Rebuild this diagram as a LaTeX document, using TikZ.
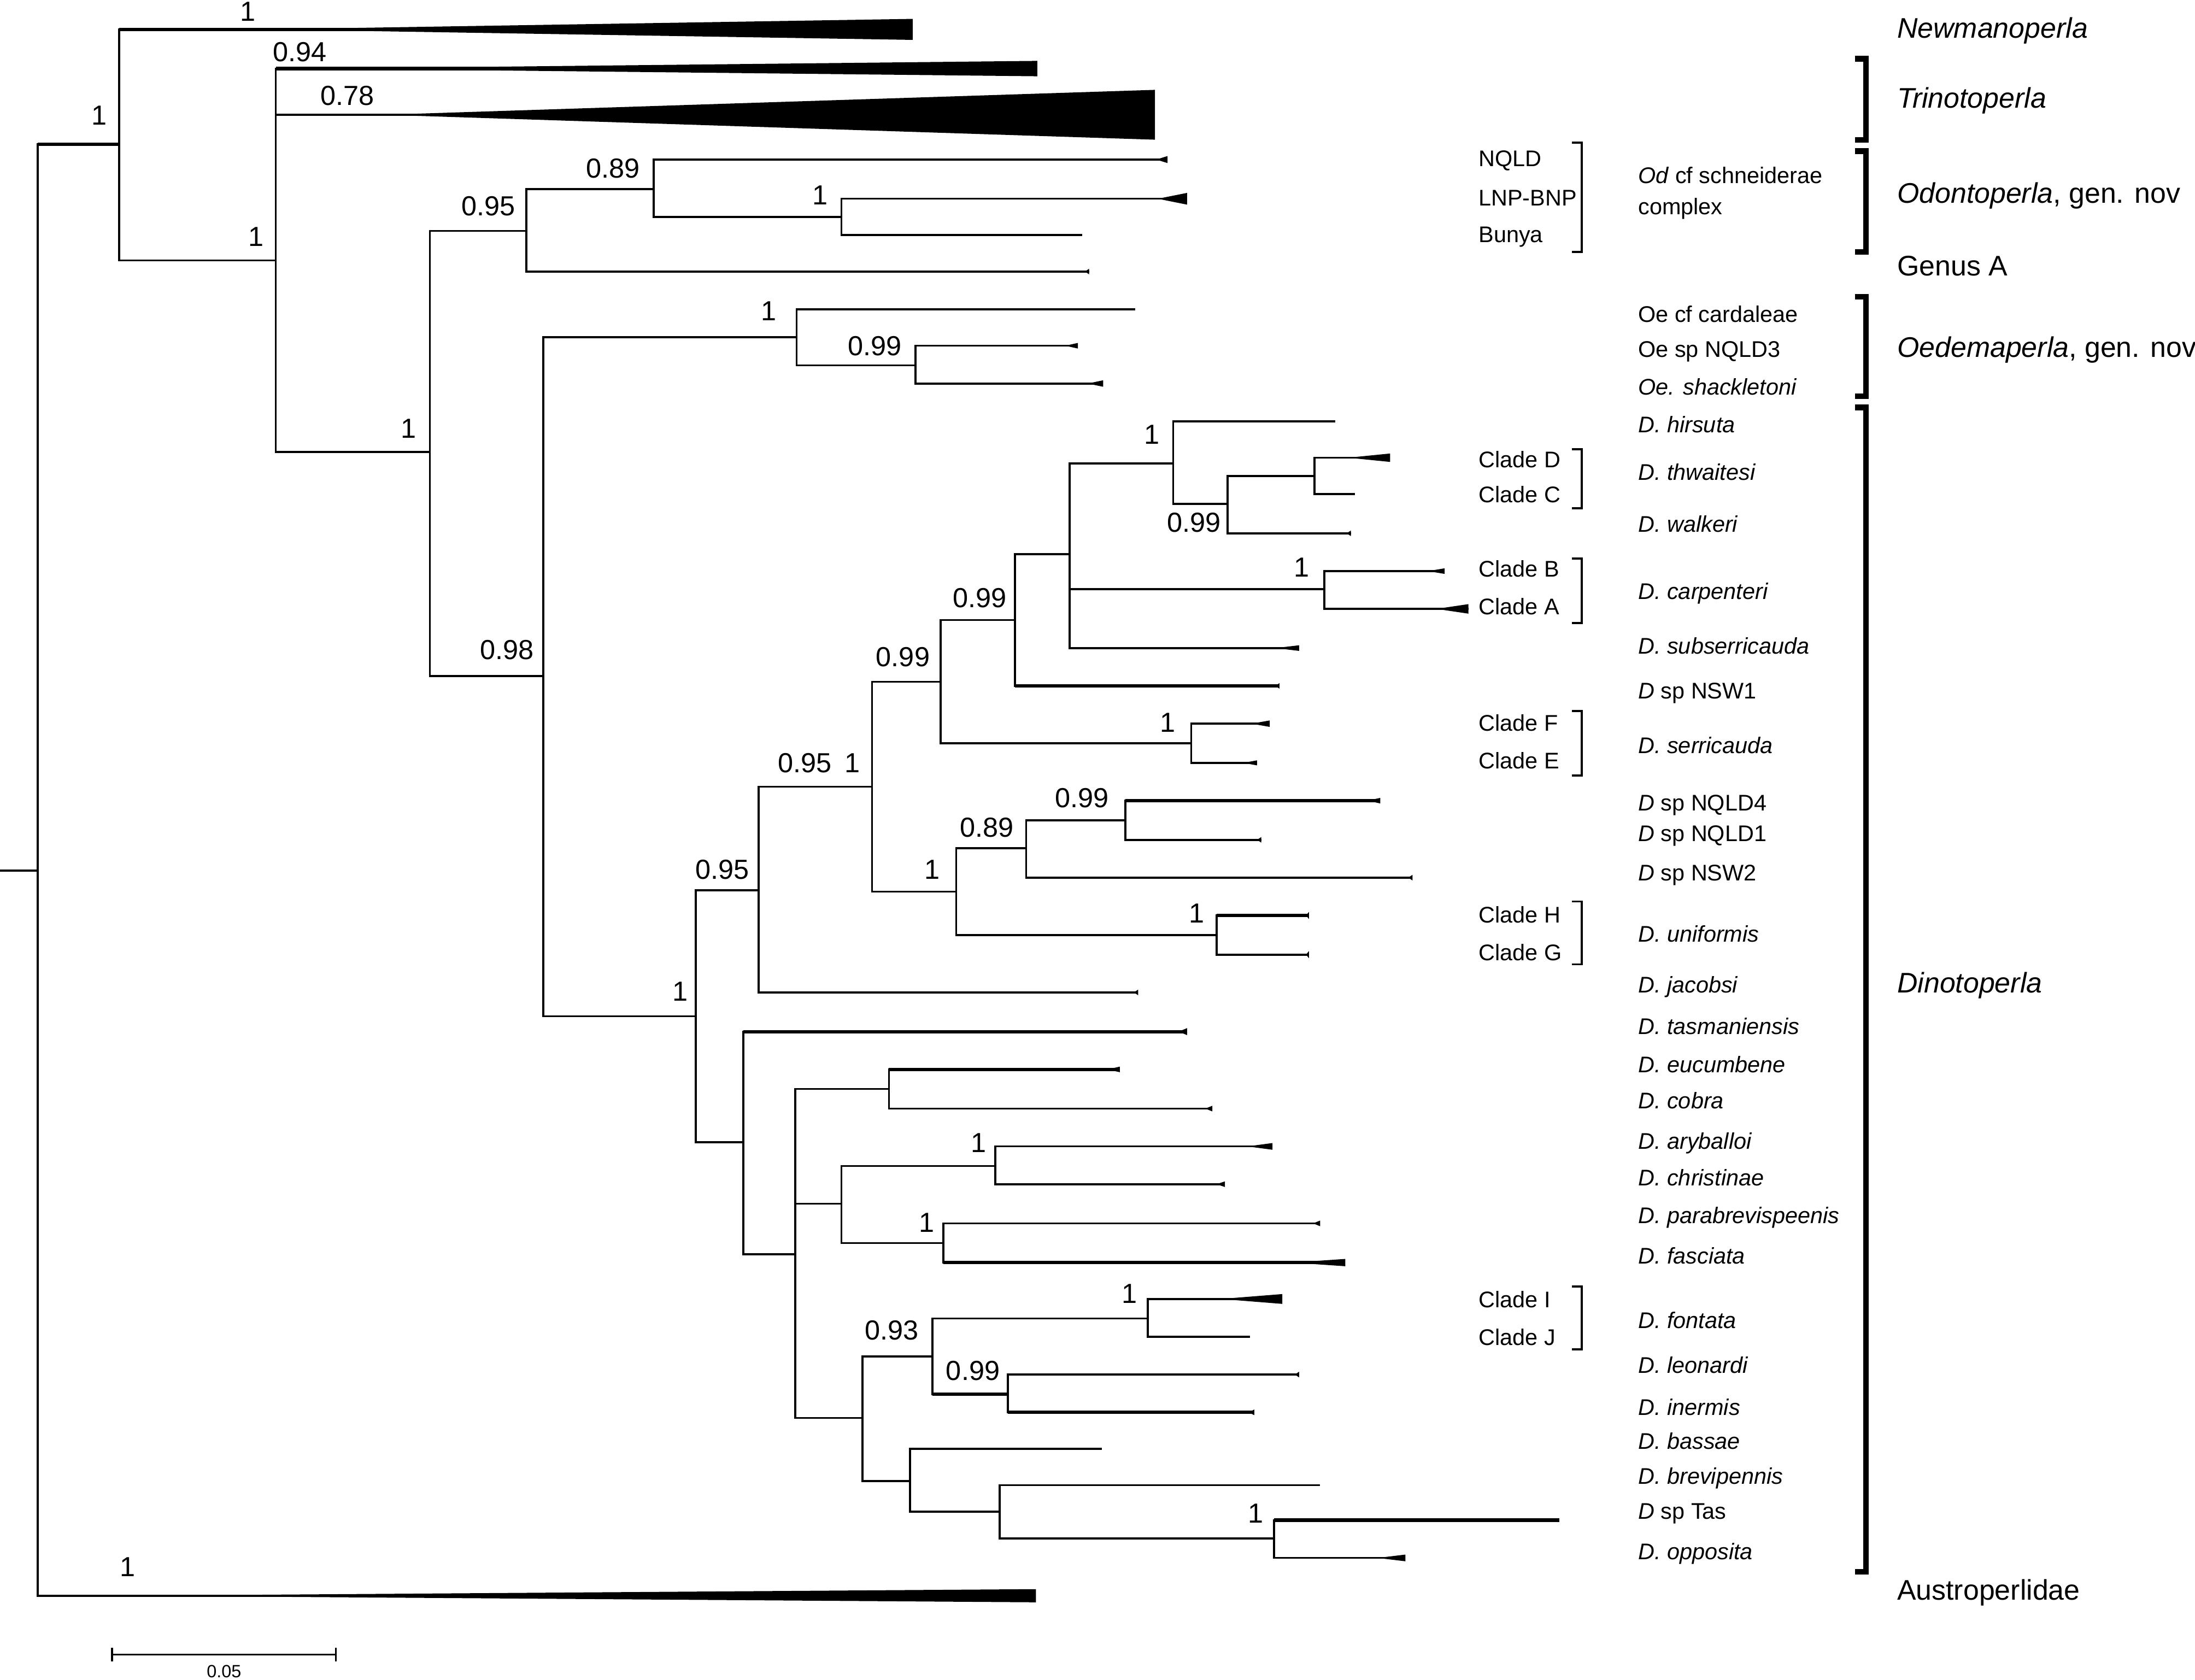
\documentclass[tikz,border=0pt]{standalone}
\usepackage{fontspec}
\setmainfont{Liberation Sans}
\usetikzlibrary{calc}
\tikzset{
  branch/.style={line width=1pt},
  heavy/.style={line width=1.7pt},
  pp/.style={font=\fontsize{14}{14}\selectfont,inner sep=0pt,text height=0.72em,text depth=0pt},
  taxon/.style={font=\fontsize{11.5}{12}\selectfont,anchor=west,inner sep=0pt,text height=0.72em,text depth=0pt},
  genus/.style={font=\fontsize{14.4}{15}\selectfont,anchor=west,inner sep=0pt,text height=0.72em,text depth=0pt},
  bigbracket/.style={line width=2.9pt},
  smallbracket/.style={line width=1pt},
}
\begin{document}
\begin{tikzpicture}[x=0.025cm,y=-0.025cm]
\fill[white] (0,0) rectangle (1568,1200);
\useasboundingbox (0,0) rectangle (1568,1200);
\foreach \n/\x/\y in {root/27/622, nA/85/103, newm/652/21, nB/197/186, tri94/741/49, tri78/825/82,
    nC/307/323, nD/376/165, nE/467/135, nqld/834/114, nF/601/155, lnp/848/142, bunya/773/168,
    genA/778/194, nG/388/483, nH/569/241, card/811/221, nI/654/261, nqld3/770/247, shack/788/274,
    nJ/497/726, nK/542/636, nL/623/562, nM/672/487, nN/725/443, nO/764/396, nP/838/331,
    hirs/954/301, nQ/877/360, nR/939/340, cladeD/993/327, cladeC/968/353, walk/965/381,
    nS/946/421, cladeB/1032/408, cladeA/1049/435, subs/928/463, nsw1/914/490, nT/851/531,
    cladeF/907/517, cladeE/898/545, nU/683/637, nV/733/606, nW/804/586, nqld4/986/572,
    nqld1/901/600, nsw2/1009/627, nX/869/668, cladeH/935/654, cladeG/935/682, jaco/813/709,
    nY/531/816, tasm/848/737, nZ/568/896, n1/635/778, eucu/800/764, cobr/866/792, n2/601/860,
    n3/711/833, aryb/909/819, chri/875/846, n4/674/888, para/943/874, fasc/961/902,
    n5/616/1013, n6/666/969, n7/820/942, cladeI/916/928, cladeJ/893/955, n8/720/996,
    leon/928/982, iner/896/1009, n9/650/1058, bass/787/1035, n10/714/1080, brev/943/1061,
    n11/910/1099, tas/1114/1086, oppo/1004/1113, austro/740/1140}
  \coordinate (\n) at (\x,\y);
\coordinate (stub) at (0,622);
\draw[branch] (stub) -- (root);
\foreach \p/\c in {root/nA, root/austro, nA/newm, nA/nB, nB/tri94, nB/tri78, nB/nC, nC/nD, nC/nG,
    nD/nE, nD/genA, nE/nqld, nE/nF, nF/lnp, nF/bunya, nG/nH, nG/nJ, nH/card, nH/nI, nI/nqld3,
    nI/shack, nJ/nK, nJ/nY, nK/nL, nK/jaco, nL/nM, nL/nU, nM/nN, nM/nT, nN/nO, nN/nsw1, nO/nP,
    nO/nS, nO/subs, nP/hirs, nP/nQ, nQ/nR, nQ/walk, nR/cladeD, nR/cladeC, nS/cladeB, nS/cladeA,
    nT/cladeF, nT/cladeE, nU/nV, nU/nX, nV/nW, nV/nsw2, nW/nqld4, nW/nqld1, nX/cladeH, nX/cladeG,
    nY/tasm, nY/nZ, nZ/n1, nZ/n2, nZ/n5, n1/eucu, n1/cobr, n2/n3, n2/n4, n3/aryb, n3/chri,
    n4/para, n4/fasc, n5/n6, n5/n9, n6/n7, n6/n8, n7/cladeI, n7/cladeJ, n8/leon, n8/iner,
    n9/bass, n9/n10, n10/brev, n10/n11, n11/tas, n11/oppo}
  \draw[branch] (\p) |- (\c);
\foreach \p/\c in {root/nA, nA/newm, nB/tri94, nY/tasm, n1/eucu, n4/fasc, n11/tas, nN/nsw1,
    nW/nqld4, nX/cladeH, n6/n8, n8/iner}
  \draw[heavy] (\p |- \c) -- (\c);
\foreach \t/\l/\h in {newm/463/7.5, tri94/511/5.5, tri78/551/17.8, austro/650/4.7, nqld/8/2.5,
    lnp/21/4.2, genA/3/2, nqld3/9/2, shack/11/2.3, cladeD/30/3, walk/3/2, cladeB/12/2,
    cladeA/23/3.4, subs/17/2, nsw1/3/2, cladeF/13/2.3, cladeE/10/1.8, nqld4/9/2, nqld1/3/2,
    nsw2/3/2, cladeH/2/2.5, cladeG/2/2.5, jaco/3/2, tasm/6/2.5, eucu/9/2, cobr/5/2, aryb/18/2.4,
    chri/6/2, para/5/2, fasc/38/2.6, cladeI/44/3.5, leon/3/2, iner/4/2, oppo/20/2.4}
  \fill (\t) ++(-\l,0) -- ++(\l,\h) -- ++(0,-2*\h) -- cycle;
\foreach \v/\x/\y [count=\i] in {1/71/84, 1/177/10, 0.94/214/39, 0.78/248/70, 1/183/171,
    1/292/308, 0.95/349/149, 0.89/438/122, 1/586/141, 0.98/362/466, 1/549/224, 0.99/625/249,
    1/486/710, 0.95/516/623, 0.95/575/547, 1/609/547, 0.99/645/471, 0.99/700/429, 1/823/312,
    0.99/853/375, 1/930/407, 1/834/518, 1/666/623, 0.89/705/593, 0.99/773/572, 1/855/654,
    1/699/818, 1/662/875, 0.93/637/952, 1/807/926, 0.99/695/981, 1/897/1083, 1/91/1121}
  \node[pp] (pp\i) at (\x,\y) {\v};
\foreach \t/\y [count=\i] in {NQLD/114, LNP-BNP/142, Bunya/168}
  \node[taxon] (loc\i) at (1056,\y) {\t};
\foreach \c/\y in {D/329, C/354, B/407, A/434, F/517, E/544, H/654, G/681, I/929, J/956}
  \node[taxon] (lab\c) at (1056,\y) {Clade \c};
\foreach \a/\b in {102/180, 321/363, 399/445, 508/554, 644/689, 919/964}
  \draw[smallbracket] (1123,\a) -| (1130,\b) -- (1123,\b);
\node[taxon] (odcf) at (1170,126) {\textit{Od} cf schneiderae};
\node[taxon] (odcx) at (1170,148) {complex};
\node[taxon] (oecard) at (1170,225) {Oe cf cardaleae};
\node[taxon] (oenqld) at (1170,250) {Oe sp NQLD3};
\node[taxon] (oeshack) at (1170,277) {\textit{Oe. shackletoni}};
\foreach \s/\y [count=\i] in {hirsuta/304, thwaitesi/338, walkeri/375, carpenteri/423,
    subserricauda/462, serricauda/533, uniformis/668, jacobsi/704, tasmaniensis/734,
    eucumbene/761, cobra/787, aryballoi/816, christinae/842, parabrevispeenis/869,
    fasciata/898, fontata/944, leonardi/976, inermis/1006, bassae/1030, brevipennis/1055,
    opposita/1109}
  \node[taxon] (sp\i) at (1170,\y) {\textit{D. \s}};
\foreach \s/\y [count=\i] in {NSW1/494, NQLD4/574, NQLD1/596, NSW2/624, Tas/1080}
  \node[taxon] (dsp\i) at (1170,\y) {\textit{D} sp \s};
\foreach \a/\b in {42/100, 108/180, 212/283, 291/1123}
  \draw[bigbracket] (1325,\a) -| (1333,\b) -- (1325,\b);
\node[genus] (newmano) at (1355,22) {\textit{Newmanoperla}};
\node[genus] (trino) at (1355,72) {\textit{Trinotoperla}};
\node[genus] (odonto) at (1355,140) {\textit{Odontoperla}, gen. nov};
\node[genus] (genusa) at (1355,192) {Genus A};
\node[genus] (oedema) at (1355,250) {\textit{Oedemaperla}, gen. nov};
\node[genus] (dino) at (1355,704) {\textit{Dinotoperla}};
\node[genus] (austrolab) at (1355,1138) {Austroperlidae};
\coordinate (sbL) at (80,1182);
\coordinate (sbR) at (240,1182);
\draw[branch] (sbL) -- (sbR);
\draw[branch] ($(sbL)+(0,-5)$) -- ($(sbL)+(0,5)$);
\draw[branch] ($(sbR)+(0,-5)$) -- ($(sbR)+(0,5)$);
\node[font=\fontsize{9}{9}\selectfont,inner sep=0pt] (sblab) at (160,1194) {0.05};
\end{tikzpicture}
\end{document}
